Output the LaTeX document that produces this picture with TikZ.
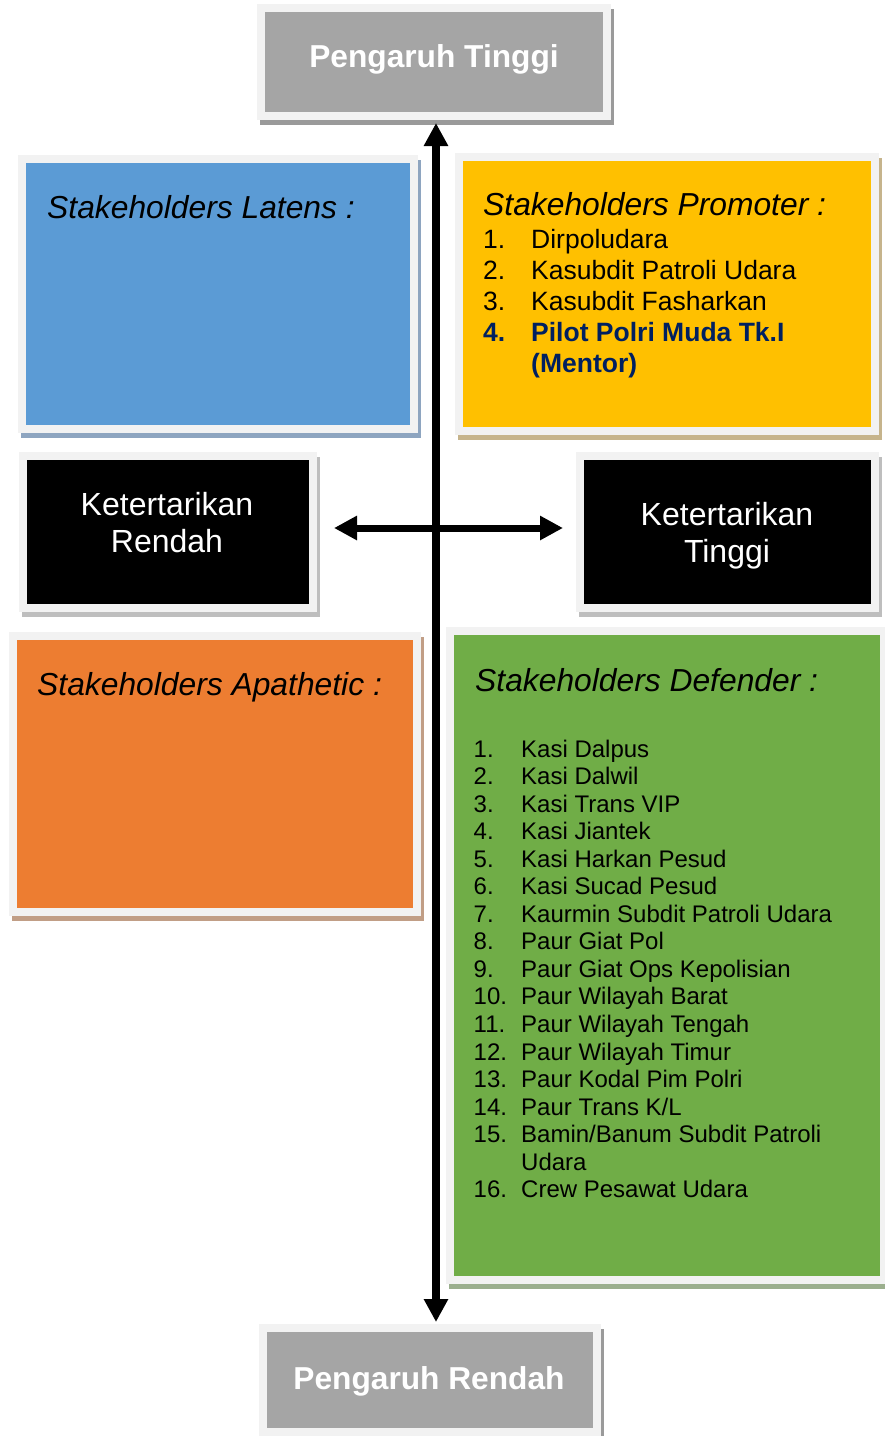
\documentclass[tikz,border=0pt]{standalone}
\usepackage{fontspec}
\setmainfont{Liberation Sans}
\usetikzlibrary{arrows.meta,backgrounds}

% panel fills, frame and shadow tones
\definecolor{frameGray}{HTML}{F2F2F2}
\definecolor{cGray}{HTML}{A5A5A5}
\definecolor{cBlue}{HTML}{5B9BD5}
\definecolor{cYellow}{HTML}{FFC000}
\definecolor{cOrange}{HTML}{ED7D31}
\definecolor{cGreen}{HTML}{70AD47}
\definecolor{navy}{HTML}{002060}
\definecolor{shGray}{HTML}{9A9A9A}
\definecolor{shBlue}{HTML}{8EA5C0}
\definecolor{shYellow}{HTML}{C6B48C}
\definecolor{shBlack}{HTML}{BEBEBE}
\definecolor{shOrange}{HTML}{C19E86}
\definecolor{shGreen}{HTML}{9BAF8E}

\begin{document}
\begin{tikzpicture}[x=1pt,y=-1pt,
  panel/.style={draw=frameGray, line width=8pt, inner sep=0pt, outer sep=0pt},
  heading/.style={font=\fontsize{31.8}{37}\selectfont\itshape, inner sep=0pt, anchor=base west},
  grayLabel/.style={font=\fontsize{31.7}{38}\selectfont\bfseries, text=white, inner sep=0pt, anchor=base},
  darkLabel/.style={font=\fontsize{32}{37}\selectfont, text=white, inner sep=0pt, anchor=base},
  axisArrow/.style={line width=#1, {Triangle[length=23pt,width=23pt]}-{Triangle[length=23pt,width=23pt]}}
]
\useasboundingbox (0,0) rectangle (885,1436);

% panels (node border runs along the middle of the light frame)
\node[panel, fill=cGray,   minimum width=346pt, minimum height=108pt] (ptop)      at (434,62)    {};
\node[panel, fill=cBlue,   minimum width=392pt, minimum height=270pt] (latens)    at (218,294)   {};
\node[panel, fill=cYellow, minimum width=416pt, minimum height=274pt] (promoter)  at (667,294)   {};
\node[panel, fill=black,   minimum width=290pt, minimum height=152pt] (krendah)   at (168,532)   {};
\node[panel, fill=black,   minimum width=295pt, minimum height=152pt] (ktinggi)   at (727.5,532) {};
\node[panel, fill=cOrange, minimum width=404pt, minimum height=276pt] (apathetic) at (215,774)   {};
\node[panel, fill=cGreen,  minimum width=434pt, minimum height=649pt] (defender)  at (667,955.5) {};
\node[panel, fill=cGray,   minimum width=334pt, minimum height=104pt] (pbottom)   at (430,1380)  {};

% drop shadows behind the panels
\begin{scope}[on background layer]
  \fill[white] (0,0) rectangle (885,1436);
  \foreach \p/\c in {ptop/shGray, latens/shBlue, promoter/shYellow, krendah/shBlack,
                     ktinggi/shBlack, apathetic/shOrange, defender/shGreen, pbottom/shGray}
    \fill[\c] ([shift={(-1,1)}]\p.north west) rectangle ([shift={(7,9)}]\p.south east);
\end{scope}

% axes
\coordinate (cross) at (436,528);
\draw[axisArrow=8pt, shorten <=7pt, shorten >=6pt] (ptop.south -| cross) -- (pbottom.north -| cross);
\draw[axisArrow=7pt, shorten <=21pt, shorten >=17pt] (krendah.east |- cross) -- (ktinggi.west |- cross);

% axis labels
\node[grayLabel] (tTop) at (434,67) {Pengaruh Tinggi};
\node[grayLabel] (tBottom) at (429,1389) {Pengaruh Rendah};
\node[darkLabel] (tKR) at (167,515) {\begin{tabular}[t]{@{}c@{}}Ketertarikan\\Rendah\end{tabular}};
\node[darkLabel] (tKT) at (727,525) {\begin{tabular}[t]{@{}c@{}}Ketertarikan\\Tinggi\end{tabular}};

% quadrant headings
\node[heading] (hLat) at (47,218) {Stakeholders Latens :};
\node[heading] (hPro) at (483,215) {Stakeholders Promoter :};
\node[heading] (hApa) at (37,695) {Stakeholders Apathetic :};
\node[heading] (hDef) at (475,691) {Stakeholders Defender :};

% promoter list
\node[inner sep=0pt, anchor=base west, font=\fontsize{26.5}{31}\selectfont] (lPro) at (483,248.5)
  {\begin{tabular}[t]{@{}p{48pt}@{}l@{}}
   1.&Dirpoludara\\
   2.&Kasubdit Patroli Udara\\
   3.&Kasubdit Fasharkan\\
   \textcolor{navy}{\bfseries 4.}&\textcolor{navy}{\bfseries Pilot Polri Muda Tk.I}\\
   &\textcolor{navy}{\bfseries (Mentor)}
   \end{tabular}};

% defender list
\node[inner sep=0pt, anchor=base west, font=\fontsize{24}{27.55}\selectfont] (lDef) at (473.5,757)
  {\begin{tabular}[t]{@{}p{47.5pt}@{}l@{}}
   1.&Kasi Dalpus\\
   2.&Kasi Dalwil\\
   3.&Kasi Trans VIP\\
   4.&Kasi Jiantek\\
   5.&Kasi Harkan Pesud\\
   6.&Kasi Sucad Pesud\\
   7.&Kaurmin Subdit Patroli Udara\\
   8.&Paur Giat Pol\\
   9.&Paur Giat Ops Kepolisian\\
   10.&Paur Wilayah Barat\\
   11.&Paur Wilayah Tengah\\
   12.&Paur Wilayah Timur\\
   13.&Paur Kodal Pim Polri\\
   14.&Paur Trans K/L\\
   15.&Bamin/Banum Subdit Patroli\\
   &Udara\\
   16.&Crew Pesawat Udara
   \end{tabular}};
\end{tikzpicture}
\end{document}
